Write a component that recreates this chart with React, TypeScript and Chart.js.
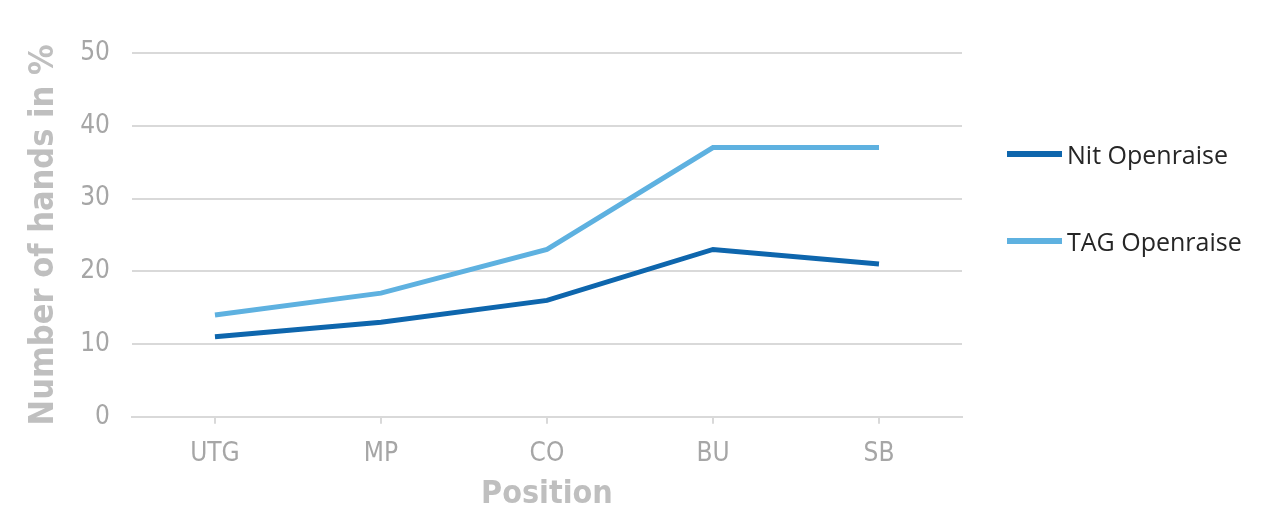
import { Chart, registerables } from "chart.js";
import { useEffect, useRef } from "react";

Chart.register(...registerables);

const positions = ["UTG", "MP", "CO", "BU", "SB"];
const nitOpenraise = [11, 13, 16, 23, 21];
const tagOpenraise = [14, 17, 23, 37, 37];
const seriesNames = ["Nit Openraise", "TAG Openraise"];
const seriesColors = ["#0e66ad", "#5eb1e0"];

const tickFont = "'DejaVu Sans Condensed', 'Liberation Sans Narrow', 'DejaVu Sans', sans-serif";
const gray = "#a6a6a6";
const titleGray = "#bfbfbf";
const gridGray = "#d9d9d9";

export default function App() {
  const canvasRef = useRef<HTMLCanvasElement | null>(null);

  useEffect(() => {
    if (!canvasRef.current) return;
    const chart = new Chart(canvasRef.current, {
      type: "line",
      data: {
        labels: positions,
        datasets: [nitOpenraise, tagOpenraise].map((values, i) => ({
          label: seriesNames[i],
          data: values,
          borderColor: seriesColors[i],
          backgroundColor: seriesColors[i],
          borderWidth: 5,
          pointRadius: 0,
          tension: 0,
        })),
      },
      options: {
        animation: false,
        responsive: false,
        maintainAspectRatio: false,
        layout: { padding: { left: 0, right: 293, top: 45, bottom: 9 } },
        plugins: {
          legend: { display: false },
          tooltip: { enabled: false },
        },
        scales: {
          x: {
            offset: true,
            border: { display: true, color: gridGray, width: 2 },
            grid: {
              display: true,
              offset: false,
              drawOnChartArea: false,
              drawTicks: true,
              tickLength: 7,
              color: gridGray,
              lineWidth: 2,
            },
            ticks: {
              color: gray,
              font: { family: tickFont, size: 26 },
              padding: 15,
            },
            title: {
              display: true,
              text: "Position",
              color: titleGray,
              font: { family: tickFont, size: 32, weight: "bold", lineHeight: 1 },
              padding: { top: -6, bottom: 0 },
            },
          },
          y: {
            min: 0,
            max: 50,
            border: { display: false },
            grid: {
              color: gridGray,
              lineWidth: 2,
              drawTicks: false,
            },
            ticks: {
              stepSize: 10,
              color: gray,
              font: { family: tickFont, size: 26 },
              padding: 22,
            },
            title: {
              display: true,
              text: "Number of hands in %",
              color: titleGray,
              font: { family: tickFont, size: 34, weight: "bold", lineHeight: 0.8 },
              padding: { top: 23, bottom: 0 },
            },
          },
        },
      },
    });
    return () => chart.destroy();
  }, []);

  return (
    <div style={{ position: "relative", width: 1247, height: 512 }}>
      <canvas ref={canvasRef} width={1247} height={512} />
      <div style={{ position: "absolute", left: 999, top: 129, fontFamily: "'Open Sans', sans-serif", fontSize: 25, color: "#262626" }}>
        {seriesNames.map((name, i) => (
          <div key={name} style={{ display: "flex", alignItems: "center", height: 34, marginBottom: i === 0 ? 53 : 0 }}>
            <span style={{ display: "inline-block", width: 55, height: 6, background: seriesColors[i], marginRight: 5 }} />
            <span>{name}</span>
          </div>
        ))}
      </div>
    </div>
  );
}
